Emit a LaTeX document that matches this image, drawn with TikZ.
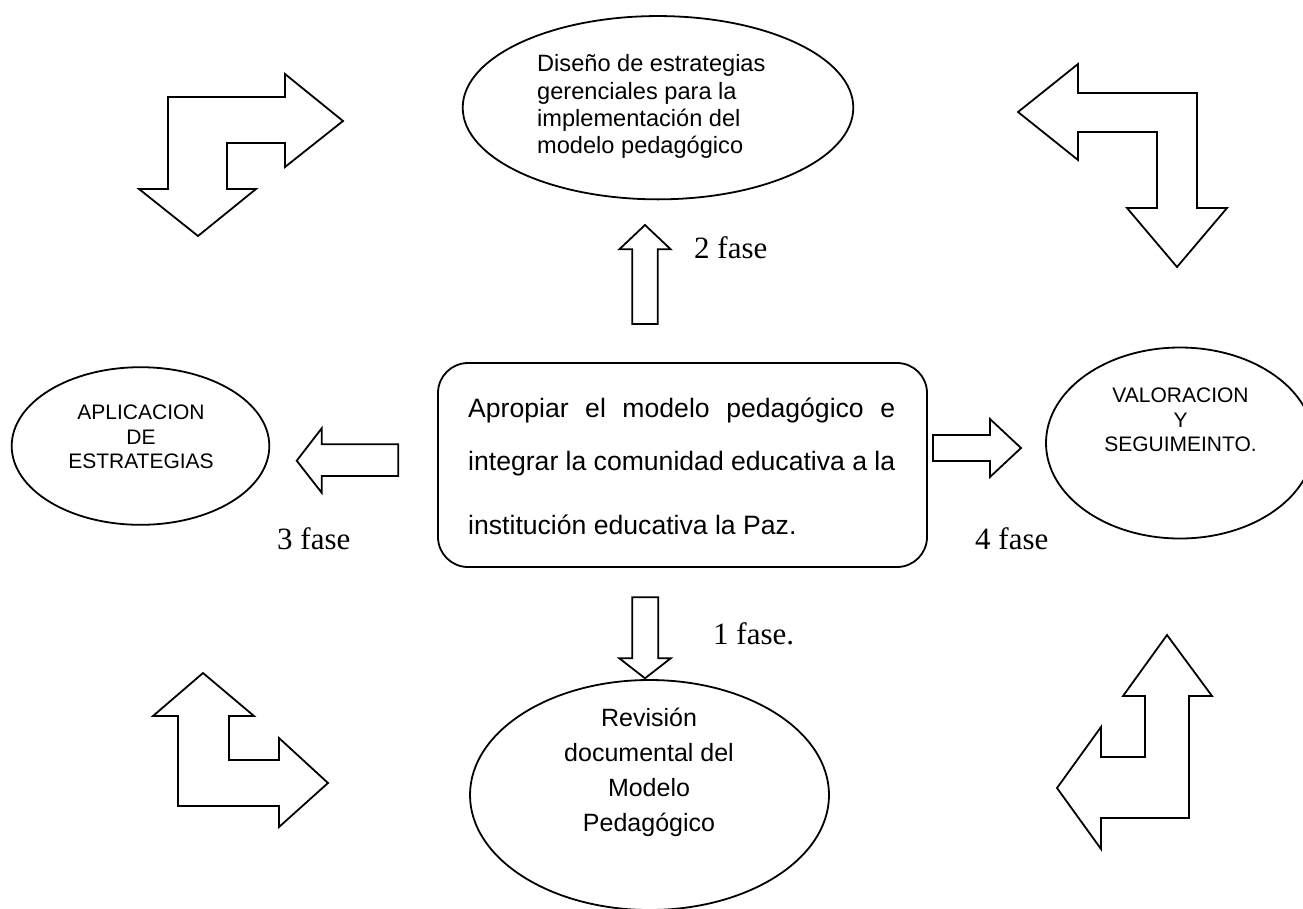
\documentclass[tikz,border=0pt]{standalone}
\usepackage{fontspec}
\setmainfont{Liberation Serif}
\newfontfamily\arialf{Liberation Sans}
\usetikzlibrary{shapes.geometric}
\begin{document}
\begin{tikzpicture}[x=1pt,y=-1pt,
  shp/.style={draw=black,line width=1.8pt,line join=miter,fill=white},
  oval/.style={ellipse,draw=black,line width=1.8pt,inner sep=0pt,outer sep=0pt},
  boxtxt/.style={font=\arialf\fontsize{26.6}{30}\selectfont,inner sep=0pt,anchor=base west},
  faselbl/.style={font=\fontsize{31}{36}\selectfont,inner sep=0pt,anchor=base west},
  ovaltxt/.style={font=\arialf\fontsize{21}{24.5}\selectfont,inner sep=0pt,align=center}
]
\clip (0,0) rectangle (1303,908);
\fill[white] (0,0) rectangle (1303,908);

% central rounded box
\node[draw=black,line width=1.8pt,rounded corners=30pt,minimum width=489pt,minimum height=204pt,inner sep=0pt] (centro) at (682.5,465) {};
\node[boxtxt] (l1) at (468,417) {\makebox[427pt][s]{Apropiar el modelo pedagógico e}};
\node[boxtxt] (l2) at (468,470) {\makebox[427pt][s]{integrar la comunidad educativa a la}};
\node[boxtxt] (l3) at (468,534) {institución educativa la Paz.};

% ellipses
\node[oval,minimum width=390.6pt,minimum height=183.3pt] (diseno) at (658,107.7) {};
\node[font=\arialf\fontsize{23.6}{27.2}\selectfont,inner sep=0pt,align=left,anchor=north west] (disenotxt) at (537,54.5)
  {Diseño de estrategias\\gerenciales para la\\implementación del\\modelo pedagógico};

\node[oval,minimum width=257.6pt,minimum height=157.6pt] (aplic) at (140.5,446) {};
\node[ovaltxt] (aplictxt) at (141,437) {APLICACION\\DE\\ESTRATEGIAS};

\node[oval,minimum width=268pt,minimum height=191pt] (valor) at (1180,443) {};
\node[ovaltxt] (valortxt) at (1180.5,420) {VALORACION\\Y\\SEGUIMEINTO.};

\node[oval,minimum width=359pt,minimum height=230pt] (revision) at (649.5,795) {};
\node[font=\arialf\fontsize{25}{35}\selectfont,inner sep=0pt,align=center] (revtxt) at (649,772)
  {Revisión\\documental del\\Modelo\\Pedagógico};

% straight block arrows
\draw[shp] (645,225) -- (670.7,249.3) -- (657.7,249.3) -- (657.7,324) -- (632.3,324) -- (632.3,249.3) -- (619.3,249.3) -- cycle;
\draw[shp] (632.3,597.3) -- (658.3,597.3) -- (658.3,658.3) -- (670.7,658.3) -- (645,678.3) -- (619.3,658.3) -- (632.3,658.3) -- cycle;
\draw[shp] (296.7,460.7) -- (321.7,428.3) -- (321.7,444.3) -- (398.3,444.3) -- (398.3,476) -- (321.7,476) -- (321.7,492.7) -- cycle;
\draw[shp] (933,435) -- (990,435) -- (990,419) -- (1021,448) -- (990,477) -- (990,461) -- (933,461) -- cycle;

% corner bent arrows
\draw[shp] (168,97) -- (285,97) -- (285,74) -- (343,121) -- (285,167) -- (285,143) -- (227,143) -- (227,189) -- (256,189) -- (198,236) -- (139,189) -- (168,189) -- cycle;
\draw[shp] (1018,112) -- (1078,64) -- (1078,93) -- (1197,93) -- (1197,208) -- (1227,208) -- (1177,267) -- (1127,208) -- (1157,208) -- (1157,132) -- (1078,132) -- (1078,160) -- cycle;
\draw[shp] (203,673) -- (254,716) -- (229,716) -- (229,760) -- (279,760) -- (279,738) -- (328,783) -- (279,827) -- (279,806) -- (178,806) -- (178,716) -- (153,716) -- cycle;
\draw[shp] (1167,635) -- (1212,696) -- (1189,696) -- (1189,818) -- (1101,818) -- (1101,849) -- (1057,788) -- (1101,727) -- (1101,757) -- (1145,757) -- (1145,696) -- (1123,696) -- cycle;

% phase labels
\node[faselbl] (f2) at (694,258) {2 fase};
\node[faselbl] (f1) at (713,644) {1 fase.};
\node[faselbl] (f3) at (277,549) {3 fase};
\node[faselbl] (f4) at (975,549) {4 fase};
\end{tikzpicture}
\end{document}
